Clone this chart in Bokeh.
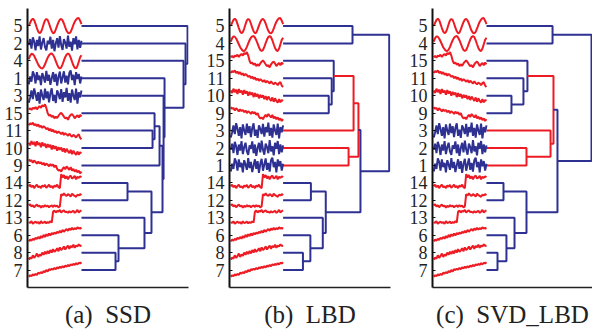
import numpy as np
from bokeh.plotting import figure
from bokeh.models import Range1d, FixedTicker, ColumnDataSource
from bokeh.layouts import row
from bokeh.embed import file_html
from bokeh.resources import INLINE

BLUE = "#2E3192"
RED = "#ED1C24"
SERIF = "Liberation Serif"

# ---- leaf orders (top to bottom) ----
order_a = [5, 2, 4, 1, 3, 15, 11, 10, 9, 14, 12, 13, 6, 8, 7]
order_b = [5, 4, 15, 11, 10, 9, 3, 2, 1, 14, 12, 13, 6, 8, 7]
order_c = [5, 4, 15, 11, 10, 9, 3, 2, 1, 14, 12, 13, 6, 8, 7]

# ---- linkages: (child1, child2, height); cluster ids start at 16 ----
links_a = [(11, 10, 0.670), (15, 16, 0.689), (9, 17, 0.736), (14, 12, 0.434),
           (8, 7, 0.321), (6, 20, 0.349), (13, 21, 0.594), (19, 22, 0.660),
           (18, 23, 0.764), (3, 24, 0.774), (1, 25, 0.783), (4, 26, 0.962),
           (2, 27, 0.981), (5, 28, 1.000)]
links_b = [(5, 4, 0.654), (10, 9, 0.430), (11, 17, 0.458), (15, 18, 0.477),
           (19, 3, 0.664), (2, 1, 0.617), (20, 21, 0.710), (14, 12, 0.262),
           (8, 7, 0.187), (6, 24, 0.257), (13, 25, 0.374), (23, 26, 0.402),
           (22, 27, 0.729), (16, 28, 1.000)]
links_c = [(5, 4, 0.629), (10, 9, 0.238), (11, 17, 0.352), (15, 18, 0.390),
           (2, 1, 0.381), (3, 20, 0.610), (19, 21, 0.638), (14, 12, 0.162),
           (8, 7, 0.105), (6, 24, 0.190), (13, 25, 0.267), (23, 26, 0.381),
           (22, 27, 0.676), (16, 28, 1.000)]
red_links_a = []
red_links_b = [20, 21, 22]
red_links_c = [20, 21, 22]

# ---- signal thumbnails (offsets in row units, up positive) ----
sig1 = [-0.35, 0.1, -0.2, 0.4, 0.2, -0.3, 0.35, -0.1, 0.15, -0.4, 0.3, 0.05, -0.25, 0.42, -0.15, 0.2, -0.38, 0.0, 0.35, -0.2,
        0.25, -0.42, 0.1, 0.38, -0.3, 0.05, 0.4, -0.25, 0.15, -0.35, 0.3, 0.45, -0.1, 0.2, -0.4, 0.35, -0.05, 0.25, -0.3, 0.1]
sig2 = [-0.1, 0.25, -0.3, 0.35, 0.1, -0.4, 0.2, -0.15, 0.4, -0.35, 0.05, 0.3, -0.2, -0.4, 0.15, -0.05, 0.38, -0.3, 0.2, -0.45,
        0.0, 0.3, -0.25, 0.42, -0.1, -0.38, 0.25, 0.05, -0.3, 0.45, -0.2, 0.1, -0.42, 0.3, -0.05, 0.4, -0.35, 0.2, -0.25, 0.15]
sig3 = [-0.4, -0.1, 0.3, -0.2, 0.42, 0.1, -0.3, 0.2, -0.45, 0.35, 0.0, -0.25, 0.4, -0.15, 0.25, -0.38, 0.15, 0.42, -0.3, 0.05,
        -0.42, 0.3, 0.1, -0.2, 0.38, -0.35, 0.2, -0.1, 0.45, -0.3, 0.15, -0.4, 0.35, 0.0, -0.25, 0.4, -0.45, 0.2, -0.1, 0.3]
sig4 = [0.1, 0.3, 0.4, 0.38, 0.28, 0.12, -0.05, -0.22, -0.34, -0.42, -0.44, -0.36, -0.2, 0.0, 0.18, 0.32, 0.4, 0.42, 0.34, 0.18,
        -0.02, -0.22, -0.38, -0.44, -0.38, -0.2, 0.02, 0.22, 0.36, 0.42, 0.36, 0.18, -0.05, -0.26, -0.4, -0.44, -0.3, -0.05, 0.2, 0.32]
sig5 = [0.0, 0.18, 0.34, 0.42, 0.33, 0.12, -0.12, -0.32, -0.42, -0.35, -0.15, 0.1, 0.32, 0.4, 0.34, 0.14, -0.1, -0.3, -0.42, -0.38,
        -0.2, 0.02, 0.22, 0.36, 0.4, 0.32, 0.14, -0.08, -0.28, -0.4, -0.43, -0.34, -0.16, 0.06, 0.24, 0.36, 0.44, 0.45, 0.3, 0.1]
sig6 = [-0.35, -0.25, -0.32, -0.2, -0.28, -0.15, -0.22, -0.1, -0.2, -0.05, -0.15, 0.02, -0.1, 0.05, -0.05, 0.1, -0.02, 0.12, 0.05, 0.15,
        0.08, 0.2, 0.12, 0.25, 0.15, 0.3, 0.2, 0.28, 0.35, 0.25, 0.38, 0.3, 0.42, 0.32, 0.4, 0.35, 0.45, 0.38, 0.42, 0.36]
sig7 = [-0.38, -0.3, -0.35, -0.25, -0.3, -0.22, -0.28, -0.15, -0.2, -0.12, -0.18, -0.05, -0.12, 0.0, -0.08, 0.05, 0.0, 0.08, 0.02, 0.12,
        0.05, 0.15, 0.1, 0.2, 0.12, 0.22, 0.15, 0.25, 0.2, 0.3, 0.22, 0.32, 0.28, 0.35, 0.3, 0.4, 0.32, 0.42, 0.38, 0.45]
sig8 = [-0.4, -0.28, -0.35, -0.15, -0.3, -0.2, -0.05, -0.25, -0.1, -0.18, 0.0, -0.12, 0.05, -0.08, 0.1, -0.05, 0.15, 0.0, 0.2, 0.05,
        0.12, 0.25, 0.08, 0.3, 0.15, 0.22, 0.35, 0.18, 0.3, 0.4, 0.22, 0.38, 0.3, 0.45, 0.28, 0.4, 0.35, 0.48, 0.38, 0.42]
sig9 = [0.35, 0.25, 0.3, 0.15, 0.28, 0.2, 0.1, 0.22, 0.12, 0.18, 0.05, 0.15, 0.0, 0.1, 0.05, -0.05, 0.08, -0.02, 0.05, -0.1,
        0.0, -0.2, -0.3, -0.25, -0.35, -0.2, -0.1, -0.22, -0.05, -0.15, -0.25, -0.1, -0.3, -0.2, -0.35, -0.25, -0.4, -0.3, -0.45, -0.35]
sig10 = [0.3, 0.15, 0.4, 0.2, 0.35, 0.1, 0.38, 0.18, 0.3, 0.05, 0.32, 0.12, 0.25, 0.0, 0.22, 0.05, 0.18, -0.08, 0.15, -0.05,
         0.1, -0.15, 0.05, -0.1, 0.02, -0.2, -0.02, -0.25, -0.05, -0.18, -0.3, -0.1, -0.35, -0.15, -0.3, -0.4, -0.2, -0.38, -0.25, -0.3]
sig11 = [0.3, 0.42, 0.35, 0.45, 0.3, 0.38, 0.25, 0.35, 0.2, 0.28, 0.15, 0.25, 0.18, 0.08, 0.15, 0.0, 0.1, -0.05, 0.05, -0.1,
         -0.02, -0.15, -0.05, -0.12, -0.2, -0.1, -0.25, -0.15, -0.22, -0.3, -0.18, -0.28, -0.35, -0.25, -0.3, -0.4, -0.28, -0.22, -0.42, -0.5]
sig12 = [-0.3, -0.22, -0.35, -0.28, -0.4, -0.3, -0.25, -0.35, -0.3, -0.42, -0.32, -0.38, -0.28, -0.35, -0.3, -0.4, -0.33, -0.3, -0.38, -0.28,
         -0.35, -0.3, -0.4, -0.35, 0.35, 0.28, 0.4, 0.3, 0.25, 0.35, 0.3, 0.22, 0.38, 0.3, 0.25, 0.2, 0.32, 0.28, 0.35, 0.3]
sig13 = [-0.25, -0.3, -0.2, -0.35, -0.28, -0.22, -0.3, -0.25, -0.35, -0.2, -0.3, -0.28, -0.22, -0.32, -0.25, -0.3, -0.2, -0.28, 0.35, 0.42,
         0.3, 0.4, 0.35, 0.45, 0.3, 0.38, 0.42, 0.32, 0.35, 0.28, 0.38, 0.3, 0.35, 0.4, 0.28, 0.35, 0.45, 0.3, 0.38, 0.42]
sig14 = [-0.2, -0.1, -0.25, -0.15, -0.3, -0.18, -0.1, -0.25, -0.2, -0.3, -0.15, -0.22, -0.12, -0.28, -0.2, -0.1, -0.25, -0.18, -0.3, -0.15,
         -0.22, -0.1, -0.25, -0.3, 0.5, 0.3, 0.45, 0.25, 0.38, 0.2, 0.35, 0.42, 0.25, 0.3, 0.4, 0.2, 0.35, 0.28, 0.38, 0.32]
sig15 = [0.2, 0.28, 0.18, 0.3, 0.25, 0.35, 0.22, 0.32, 0.4, 0.3, 0.45, 0.38, 0.5, 0.3, 0.0, -0.15, -0.1, -0.22, -0.15, -0.3,
         -0.2, -0.28, -0.15, -0.05, 0.02, -0.08, -0.2, -0.3, -0.25, -0.38, -0.2, -0.1, -0.05, -0.15, -0.3, -0.2, -0.12, -0.25, -0.1, -0.2]
blue_signals = [1, 2, 3]

signals = {1: sig1, 2: sig2, 3: sig3, 4: sig4, 5: sig5, 6: sig6, 7: sig7, 8: sig8,
           9: sig9, 10: sig10, 11: sig11, 12: sig12, 13: sig13, 14: sig14, 15: sig15}

captions = ["(a)\u00a0\u00a0SSD", "(b)\u00a0\u00a0LBD", "(c)\u00a0\u00a0SVD_LBD"]


def panel(order, links, red_ids, caption, x_start, x_end, width, left, right):
    n = len(order)
    p = figure(width=width, height=330, output_backend="svg", toolbar_location=None,
               x_range=Range1d(x_start, x_end), y_range=Range1d(0, n + 1),
               min_border_left=left, min_border_right=right,
               min_border_top=8, min_border_bottom=42)
    p.outline_line_color = None
    p.grid.visible = False
    p.background_fill_color = "white"
    p.border_fill_color = "white"

    pos = {leaf: n - i for i, leaf in enumerate(order)}
    hgt = {leaf: 0.0 for leaf in order}
    xs, ys, cs = [], [], []
    for k, (a, b, h) in enumerate(links):
        cid = n + 1 + k
        xs.append([hgt[a], h, h, hgt[b]])
        ys.append([pos[a], pos[a], pos[b], pos[b]])
        cs.append(RED if cid in red_ids else BLUE)
        pos[cid] = (pos[a] + pos[b]) / 2.0
        hgt[cid] = h
    src = ColumnDataSource(dict(xs=xs, ys=ys, color=cs))
    p.multi_line("xs", "ys", line_color="color", line_width=2.0, source=src)

    # thumbnails
    for leaf in order:
        sig = np.array(signals[leaf], dtype=float)
        xx = np.linspace(x_start + 0.012, 0.0, len(sig))
        col = BLUE if leaf in blue_signals else RED
        p.line(xx, pos[leaf] + sig, line_color=col, line_width=2.0)

    ya = p.yaxis[0]
    ya.ticker = FixedTicker(ticks=list(range(1, n + 1)))
    ya.major_label_overrides = {n - i: str(leaf) for i, leaf in enumerate(order)}
    ya.major_label_text_font = SERIF
    ya.major_label_text_font_size = "18px"
    ya.major_label_text_color = "#222222"
    ya.major_label_standoff = 5
    ya.major_tick_in = 3
    ya.major_tick_out = 0
    ya.minor_tick_line_color = None
    ya.axis_line_width = 2
    ya.axis_line_color = "#111111"
    ya.major_tick_line_color = "#111111"

    xa = p.xaxis[0]
    xa.ticker = FixedTicker(ticks=[])
    xa.minor_tick_line_color = None
    xa.major_label_text_font_size = "0px"
    xa.axis_line_width = 1.5
    xa.axis_line_color = "#222222"
    xa.axis_label = caption
    xa.axis_label_text_font = SERIF
    xa.axis_label_text_font_style = "normal"
    xa.axis_label_text_font_size = "25px"
    xa.axis_label_text_color = "#222222"
    xa.axis_label_standoff = 13
    return p


pa = panel(order_a, links_a, red_links_a, captions[0], -0.509, 1.009, 202, 27, 14)
pb = panel(order_b, links_b, red_links_b, captions[1], -0.505, 1.012, 203, 27, 15)
pc = panel(order_c, links_c, red_links_c, captions[2], -0.514, 1.0095, 187, 27, 0)

layout = row(pa, pb, pc)
open("out.html", "w").write(file_html(layout, INLINE))
